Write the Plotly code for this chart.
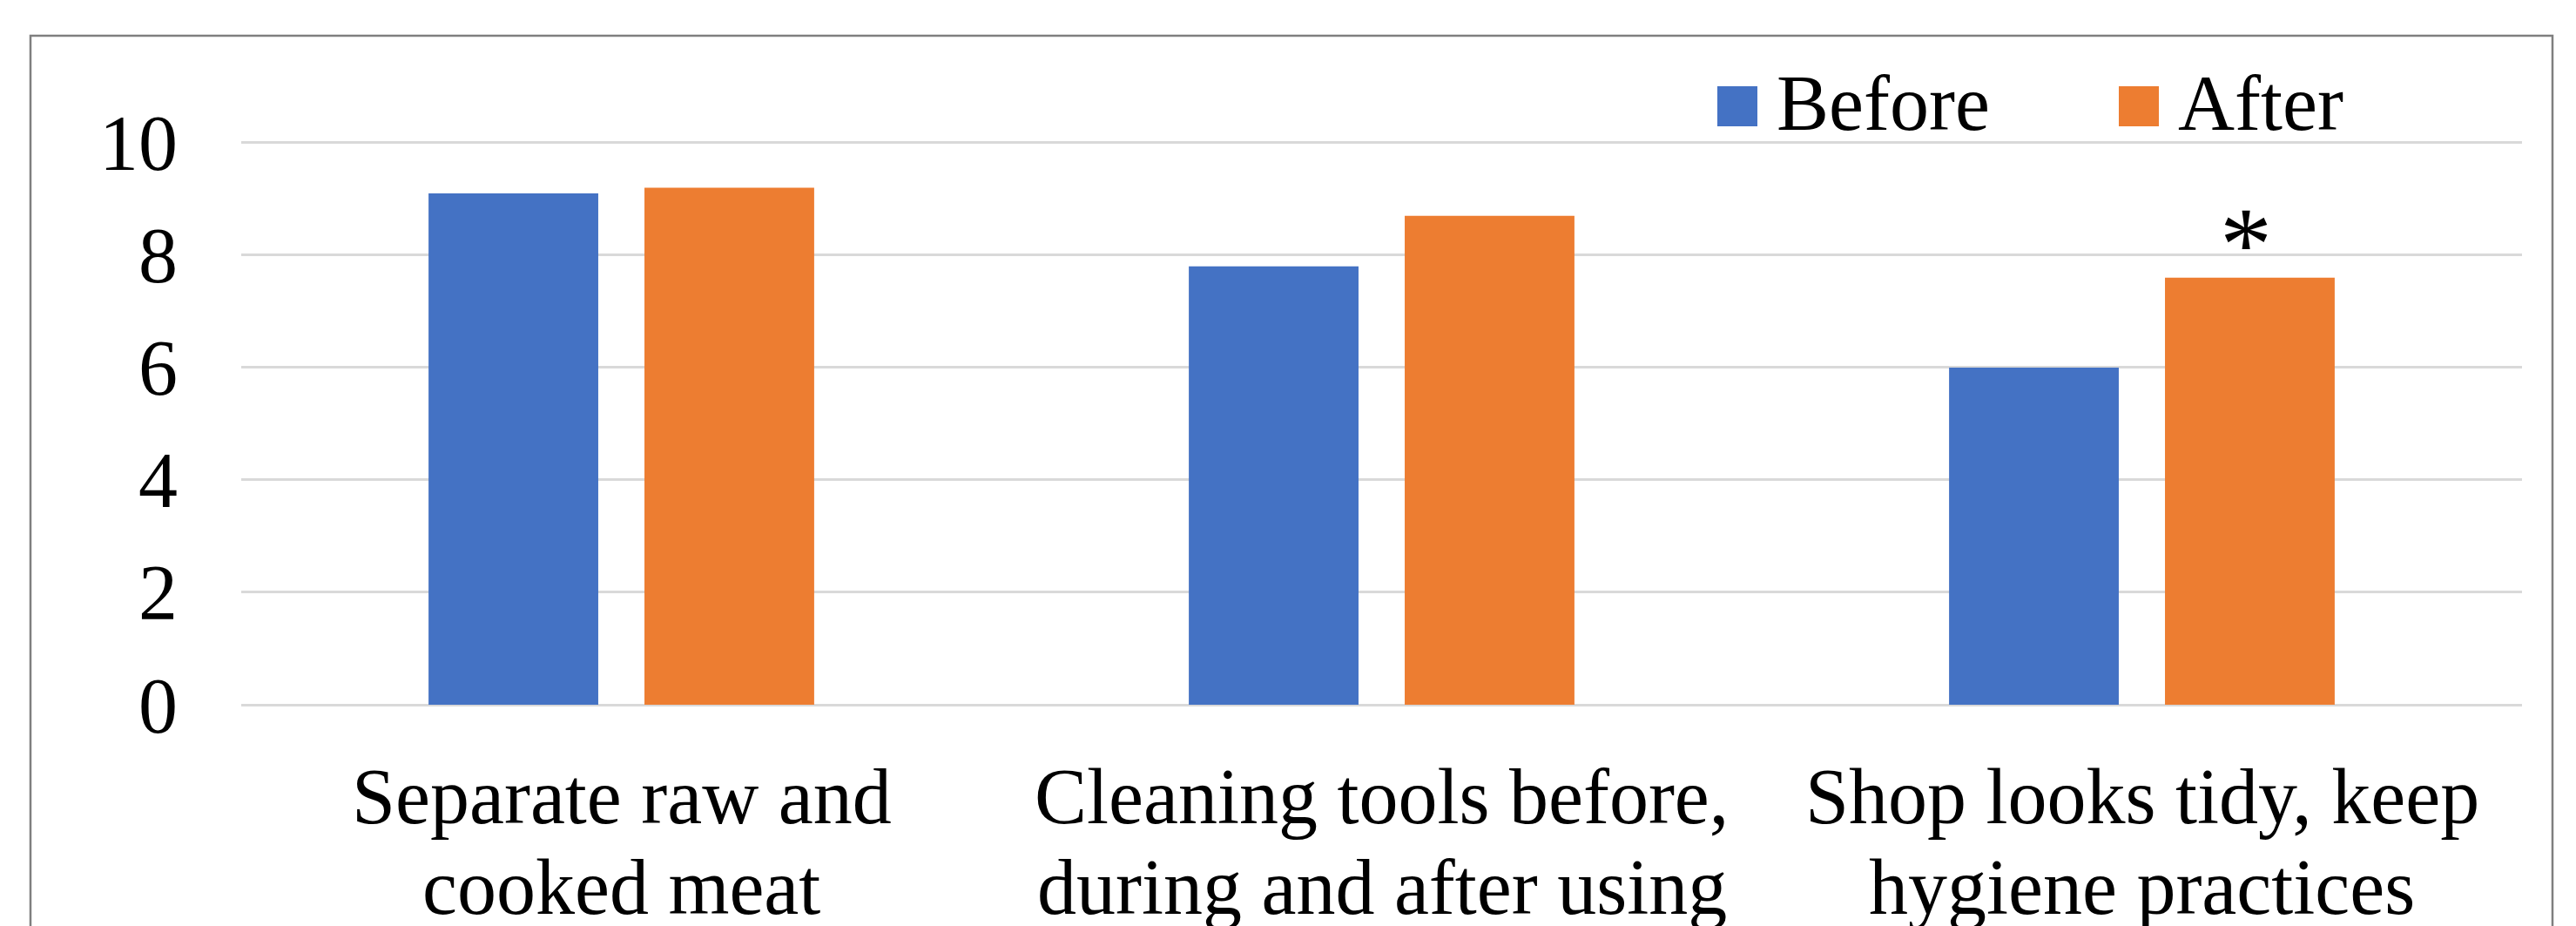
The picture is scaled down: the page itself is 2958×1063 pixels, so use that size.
import plotly.graph_objects as go

# ---- data ----
categories = [
    "Separate raw and<br>cooked meat",
    "Cleaning tools before,<br>during and after using",
    "Shop looks tidy, keep<br>hygiene practices",
]
before_scores = [9.1, 7.8, 6.0]
after_scores = [9.2, 8.7, 7.6]
significance = ["", "", "*"]
series_names = ["Before", "After"]
y_ticks = [0, 2, 4, 6, 8, 10]

# ---- styling ----
FONT = "Liberation Serif, Times New Roman, serif"
BLUE = "#4472C4"
ORANGE = "#ED7D31"
GRID = "#D9D9D9"
W, H = 2958, 1063
L, R, T, B = 277, 62, 138, 254
PW, PH = W - L - R, H - T - B
BARGAP, BARGROUPGAP = 0.432, 0.214


def px_x(px):
    return (px - L) / PW


def px_y(py):
    return (H - B - py) / PH


fig = go.Figure()
fig.add_trace(go.Bar(
    name=series_names[0], x=categories, y=before_scores,
    marker=dict(color=BLUE, line=dict(width=0)),
))
fig.add_trace(go.Bar(
    name=series_names[1], x=categories, y=after_scores,
    marker=dict(color=ORANGE, line=dict(width=0)),
))

annotations = []

# significance markers above the "After" bars (offset = half a bar slot)
after_offset = (1 - BARGAP) * PW / len(categories) / 4
for cat, val, mark in zip(categories, after_scores, significance):
    if mark:
        annotations.append(dict(
            x=cat, xref="x", y=val, yref="y", text=mark, showarrow=False,
            xanchor="center", yanchor="middle",
            xshift=after_offset - 4, yshift=38,
            font=dict(family=FONT, size=120, color="black"),
        ))

# category labels, one annotation per line
for cat in categories:
    lines = cat.split("<br>")
    for i, line in enumerate(lines):
        annotations.append(dict(
            x=cat, xref="x", y=px_y(914.6 + 104 * i), yref="paper",
            text=line, showarrow=False, xanchor="center", yanchor="middle",
            font=dict(family=FONT, size=90, color="black"),
        ))

# chart frame and legend keys + labels
shapes = [
    dict(type="rect", xref="paper", yref="paper",
         x0=px_x(35), x1=px_x(2931), y0=px_y(1200), y1=px_y(41),
         line=dict(color="#7F7F7F", width=2.5), fillcolor="rgba(0,0,0,0)",
         layer="below"),
]
legend_keys = [(1972, BLUE, 2038), (2433, ORANGE, 2499)]
for name, (kx, col, tx) in zip(series_names, legend_keys):
    shapes.append(dict(type="rect", xref="paper", yref="paper",
                       x0=px_x(kx), x1=px_x(kx + 46), y0=px_y(145), y1=px_y(99),
                       line=dict(width=0), fillcolor=col))
    annotations.append(dict(
        x=px_x(tx), xref="paper", y=px_y(118.6), yref="paper",
        text=name, showarrow=False, xanchor="left", yanchor="middle",
        font=dict(family=FONT, size=90, color="black"),
    ))

fig.update_layout(
    width=W, height=H,
    margin=dict(l=L, r=R, t=T, b=B, autoexpand=False),
    paper_bgcolor="white", plot_bgcolor="white",
    barmode="group", bargap=BARGAP, bargroupgap=BARGROUPGAP,
    showlegend=False,
    font=dict(family=FONT, size=90, color="black"),
    shapes=shapes, annotations=annotations,
    xaxis=dict(showticklabels=False, showgrid=False, zeroline=False,
               showline=False, ticks=""),
    yaxis=dict(range=[0, 10.4], tickvals=y_ticks, showgrid=True,
               gridcolor=GRID, gridwidth=2.5, zeroline=True,
               zerolinecolor=GRID, zerolinewidth=2.5, showline=False,
               ticks="", ticklabelstandoff=72,
               tickfont=dict(family=FONT, size=90, color="black")),
)

fig.write_html("out.html")
